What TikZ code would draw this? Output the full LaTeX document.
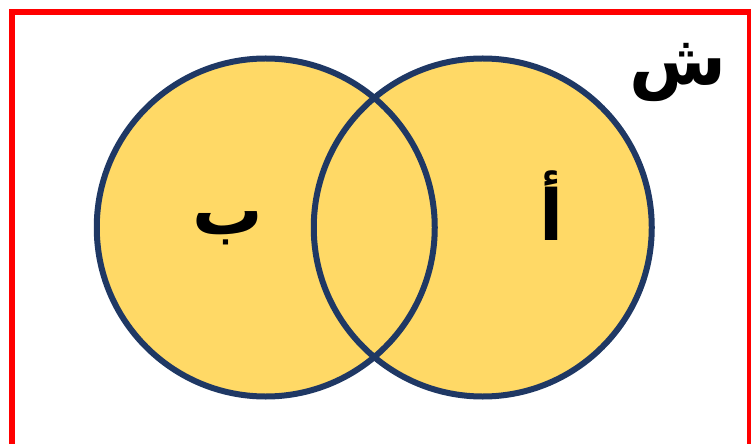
\documentclass[tikz,border=0pt]{standalone}
\usepackage{fontspec}
\newfontfamily\arabicfont[Script=Arabic]{DejaVu Sans}
\TeXXeTstate=1
\usepackage{xcolor}
\definecolor{setfill}{HTML}{FFD966}
\definecolor{setline}{HTML}{1F3864}

\begin{document}
\begin{tikzpicture}[font=\arabicfont\bfseries, text centered]
    \useasboundingbox (0,0) rectangle (15.02,8.86);
    % Frame
    \draw[red, line width=0.12cm] (0.246,8.614) rectangle (15.0,-0.3);

    % Sets
    \fill[setfill] (5.315,4.31) circle (3.38);
    \fill[setfill] (9.655,4.31) circle (3.38);
    \draw[setline, line width=0.12cm] (5.315,4.31) circle (3.38);
    \draw[setline, line width=0.12cm] (9.655,4.31) circle (3.38);

    % Labels
    \node[font=\arabicfont\bfseries\fontsize{40}{44}\selectfont] (labB) at (4.56,4.3) {\beginR ب\endR};
    \node[font=\arabicfont\bfseries\fontsize{40}{44}\selectfont] (labA) at (11.04,4.74) {\beginR أ\endR};
    \node[font=\arabicfont\bfseries\fontsize{40}{44}\selectfont] (labU) at (13.56,7.42) {\beginR ش\endR};
\end{tikzpicture}
\end{document}
